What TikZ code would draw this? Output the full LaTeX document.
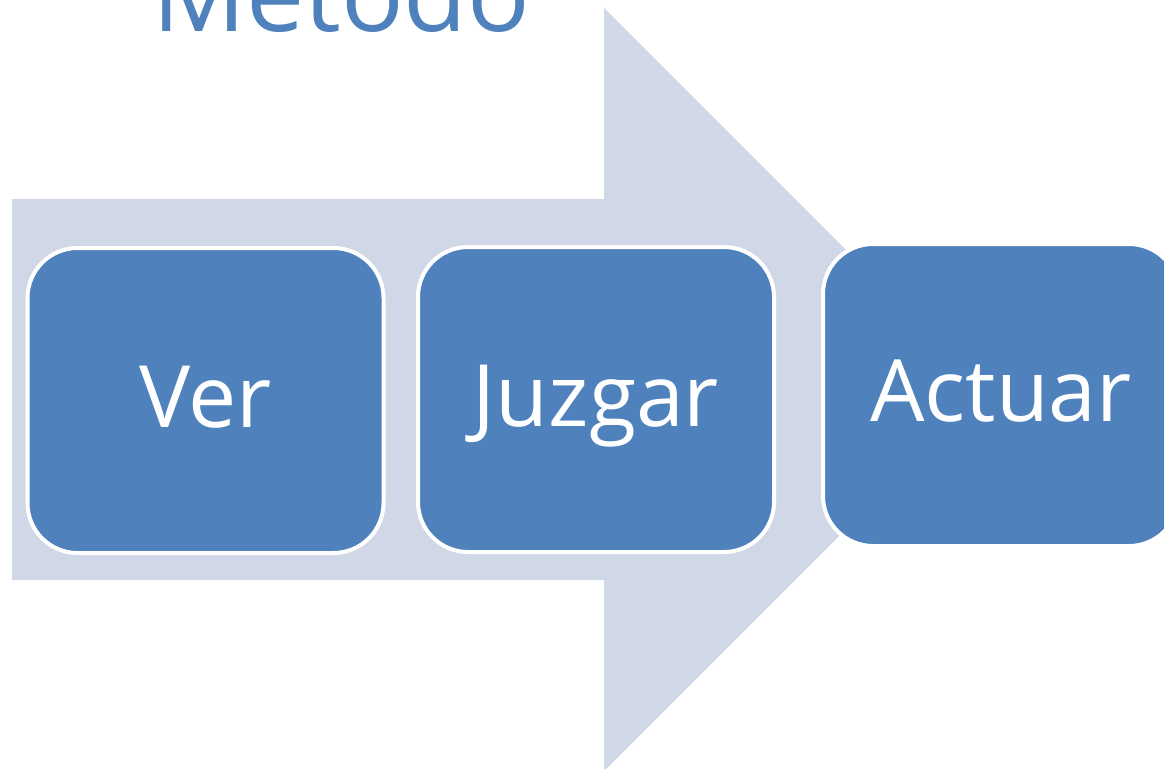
\documentclass[tikz,border=0pt]{standalone}
\usepackage{fontspec}
\setmainfont{Open Sans}
\definecolor{arrowfill}{HTML}{D0D8E8}
\definecolor{boxblue}{HTML}{4F81BD}
\begin{document}
\begin{tikzpicture}[x=1pt,y=-1pt,
  stepbox/.style={draw=white, line width=4pt, fill=boxblue, rounded corners=50pt,
    minimum width=356pt, minimum height=305pt, inner sep=0pt,
    text height=80pt, text depth=27pt, text=white,
    font=\fontsize{86}{96}\selectfont}]
\useasboundingbox (0,0) rectangle (1164,768);
\fill[arrowfill] (12,199) -- (604,199) -- (604,8) -- (985.5,389.5) -- (604,771) -- (604,580) -- (12,580) -- cycle;
\node[anchor=base west, text=boxblue, inner sep=0pt, font=\fontsize{104}{112}\selectfont] (title) at (152,32) {Método};
\node[stepbox] (ver) at (205.5,400.5) {Ver};
\node[stepbox] (juzgar) at (596,399.5) {Juzgar};
\node[stepbox, minimum height=302pt] (actuar) at (1001,395) {Actuar};
\end{tikzpicture}
\end{document}
